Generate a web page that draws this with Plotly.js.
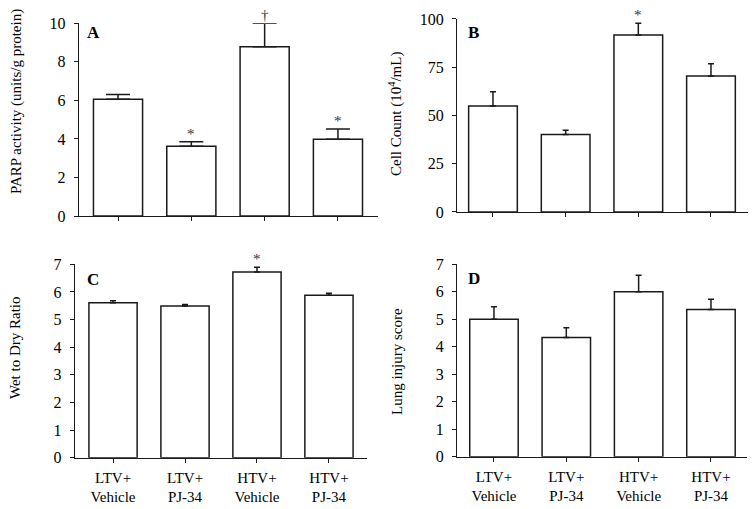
<!DOCTYPE html>
<html>
<head>
<meta charset="utf-8">
<script src="https://cdn.plot.ly/plotly-3.0.1.min.js"></script>
<style>html,body{margin:0;padding:0;background:#fff;}#chart{width:754px;height:509px;}</style>
</head>
<body>
<div id="chart"></div>
<script>
// Categories (tick labels)
var groups = ["LTV+<br>Vehicle", "LTV+<br>PJ-34", "HTV+<br>Vehicle", "HTV+<br>PJ-34"];

// Panel A: PARP activity (units/g protein)
var parpMean = [6.06, 3.62, 8.79, 3.98];
var parpErr  = [0.24, 0.24, 1.21, 0.53];
// Panel B: Cell count (10^4/mL)
var cellMean = [54.9, 40.1, 91.7, 70.5];
var cellErr  = [7.4, 2.2, 6.1, 6.3];
// Panel C: Wet to dry ratio
var wdMean = [5.61, 5.49, 6.72, 5.88];
var wdErr  = [0.07, 0.06, 0.17, 0.07];
// Panel D: Lung injury score
var lisMean = [5.00, 4.34, 6.00, 5.36];
var lisErr  = [0.46, 0.35, 0.60, 0.37];

// Significance markers per group
var marksA = ["", "*", "\u2020", "*"];
var marksB = ["", "", "*", ""];
var marksC = ["", "", "*", ""];

var FONT = "Liberation Serif, Times New Roman, serif";
var INK = "#1a1a1a";

function barTrace(y, err, xa, ya, capw) {
  return {
    type: "bar", x: groups, y: y, xaxis: xa, yaxis: ya,
    width: 0.67,
    marker: {color: "#ffffff", line: {color: INK, width: 1.5}},
    error_y: {type: "data", array: err, arrayminus: [0,0,0,0], symmetric: false,
              color: INK, thickness: 1.5, width: capw},
    showlegend: false, hoverinfo: "skip"
  };
}

var data = [
  barTrace(parpMean, parpErr, "x", "y", 12),
  barTrace(cellMean, cellErr, "x2", "y2", 3),
  barTrace(wdMean, wdErr, "x3", "y3", 3),
  barTrace(lisMean, lisErr, "x4", "y4", 3)
];

function xax(domain, range, labels, anchor) {
  return {
    domain: domain, range: range, type: "category", anchor: anchor,
    showline: true, linecolor: INK, linewidth: 1.3,
    ticks: "outside", ticklen: 4, tickcolor: INK, tickwidth: 1,
    ticklabelstandoff: 2,
    showticklabels: labels, showgrid: false, zeroline: false,
    tickfont: {family: FONT, size: 15, color: "#000"}, fixedrange: true
  };
}
function yax(domain, range, dtick, anchor) {
  return {
    domain: domain, range: range, dtick: dtick, anchor: anchor,
    showline: true, linecolor: INK, linewidth: 1.3,
    ticks: "outside", ticklen: 4, tickcolor: INK, tickwidth: 1,
    ticklabelstandoff: 5,
    showgrid: false, zeroline: false,
    tickfont: {family: FONT, size: 16, color: "#000"}, fixedrange: true
  };
}

var annotations = [];
function letter(t, x, y) {
  annotations.push({text: "<b>" + t + "</b>", xref: "paper", yref: "paper",
    x: x / 754, y: 1 - y / 509, showarrow: false, xanchor: "center", yanchor: "middle",
    font: {family: FONT, size: 17, color: "#000"}});
}
function ytitle(t, x, y) {
  annotations.push({text: t, xref: "paper", yref: "paper", textangle: -90,
    x: x / 754, y: 1 - y / 509, showarrow: false, xanchor: "center", yanchor: "middle",
    font: {family: FONT, size: 15, color: "#000"}});
}
function sig(marks, mean, err, xa, ya, shift) {
  for (var i = 0; i < marks.length; i++) {
    if (!marks[i]) continue;
    annotations.push({text: marks[i], xref: xa, yref: ya, x: groups[i], y: mean[i] + err[i],
      showarrow: false, yanchor: "bottom", yshift: shift,
      font: {family: FONT, size: 15, color: "#333"}});
  }
}

letter("A", 93, 33);
letter("B", 473, 33);
letter("C", 93, 279);
letter("D", 474, 278);
ytitle("PARP activity (units/g protein)", 16, 102);
ytitle("Cell Count (10<sup>4</sup>/mL)", 395, 114);
ytitle("Wet to Dry Ratio", 15, 348);
ytitle("Lung injury score", 397, 362);
sig(marksA, parpMean, parpErr, "x", "y", -2);
sig(marksB, cellMean, cellErr, "x2", "y2", -2);
sig(marksC, wdMean, wdErr, "x3", "y3", -2);

var layout = {
  width: 754, height: 509,
  margin: {l: 0, r: 0, t: 0, b: 0},
  paper_bgcolor: "#fff", plot_bgcolor: "#fff",
  xaxis:  xax([0.1048, 0.5013], [-0.532, 3.546], false, "y"),
  yaxis:  yax([0.5756, 0.9542], [0, 10], 2, "x"),
  xaxis2: xax([0.6065, 0.9920], [-0.491, 3.509], false, "y2"),
  yaxis2: yax([0.5835, 0.9627], [0, 100], 25, "x2"),
  xaxis3: xax([0.0995, 0.4867], [-0.528, 3.528], true, "y3"),
  yaxis3: yax([0.1008, 0.4807], [0, 7], 1, "x3"),
  xaxis4: xax([0.6065, 0.9907], [-0.507, 3.498], true, "y4"),
  yaxis4: yax([0.1028, 0.4807], [0, 7], 1, "x4"),
  annotations: annotations
};

Plotly.newPlot("chart", data, layout, {displayModeBar: false, staticPlot: true});
</script>
</body>
</html>
